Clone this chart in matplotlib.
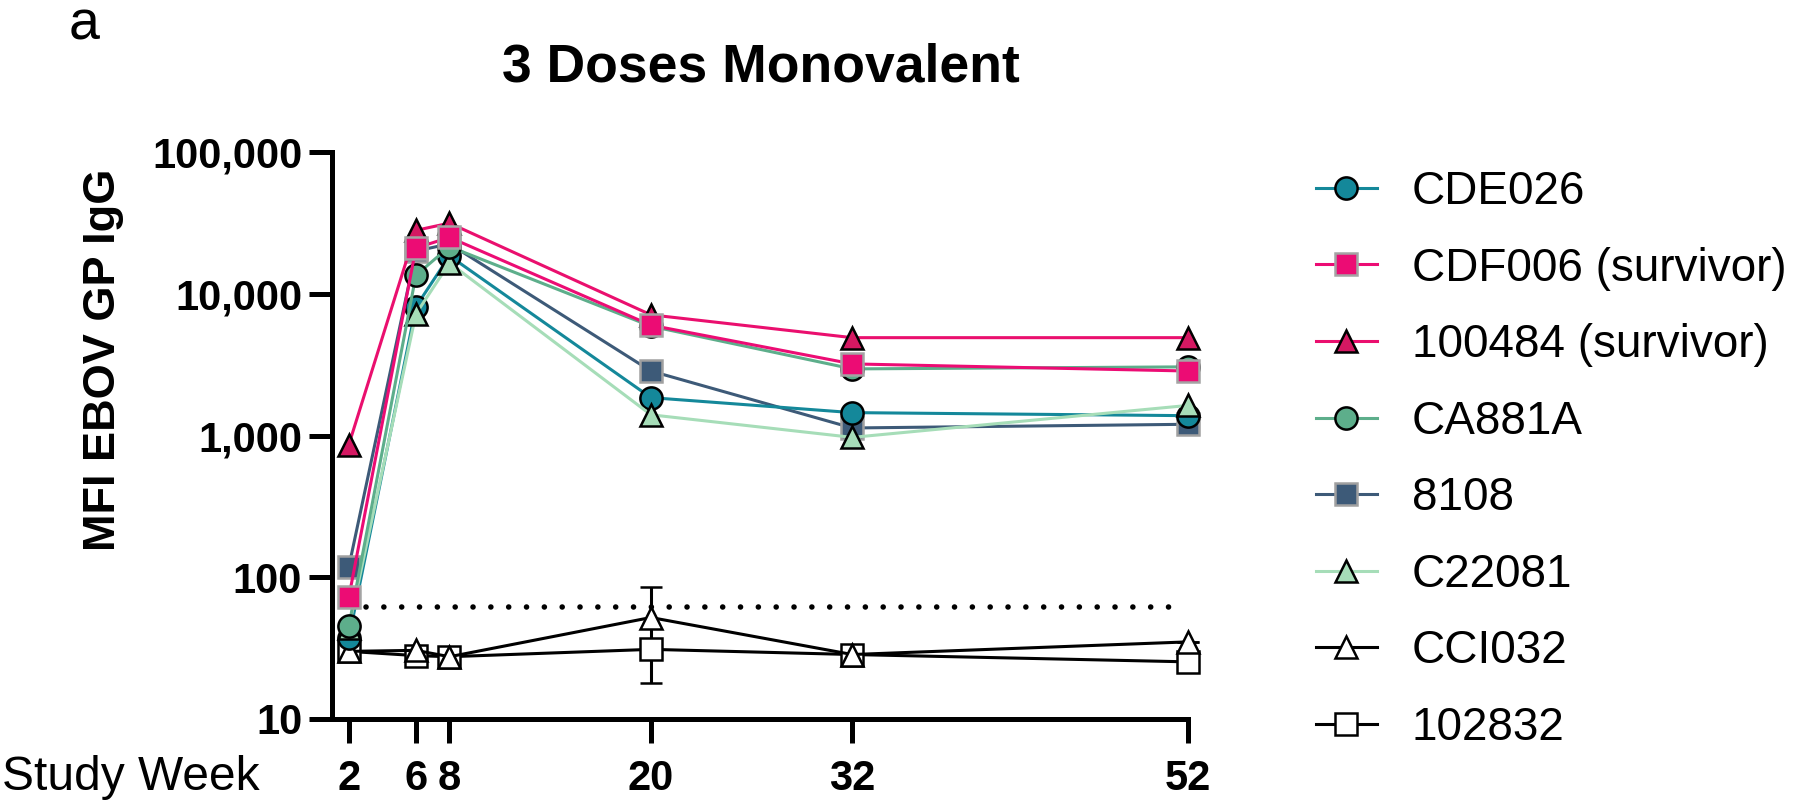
import matplotlib
matplotlib.use('Agg')
import matplotlib.pyplot as plt
from matplotlib.ticker import FixedLocator, NullLocator

plt.rcParams['font.family'] = ['Liberation Sans', 'DejaVu Sans']

weeks = [2, 6, 8, 20, 32, 52]
week_labels = ['2', '6', '8', '20', '32', '52']
y_ticks = [10, 100, 1000, 10000, 100000]
y_tick_labels = ['10', '100', '1,000', '10,000', '100,000']

cde026 = [37, 8100, 18500, 1850, 1450, 1380]
cdf006 = [72, 21000, 25000, 6000, 3200, 2850]
s100484 = [860, 28000, 31500, 7100, 4900, 4900]
ca881a = [45, 13500, 21500, 5900, 2950, 3050]
s8108 = [118, 20000, 22500, 2850, 1130, 1200]
c22081 = [44, 7200, 16500, 1400, 970, 1630]
cci032 = [30, 30.5, 27.5, 52, 28.5, 35]
cci032_err = [0, 0, 0, 34, 0, 0]
s102832 = [30, 28, 27.5, 31, 28.5, 25.3]

cutoff = 61.5
cutoff_weeks = [3, 51]

fig = plt.figure(figsize=(18, 8.09), dpi=100)
ax = fig.add_axes([332 / 1800, 90 / 809, 856 / 1800, 567 / 809])

ms = 16
mew = 1.8
lw = 2.2

# (data, label, marker, fill, edge, line colour, zorder)
series = [
    (cde026, 'CDE026', 'o', '#14889a', 'black', '#14889a', 5),
    (cdf006, 'CDF006 (survivor)', 's', '#ec0c74', '#a4a4a4', '#ec0c74', 8),
    (s100484, '100484 (survivor)', '^', '#d41862', 'black', '#ea0f6e', 7),
    (ca881a, 'CA881A', 'o', '#5dae8b', 'black', '#5dae8b', 6.5),
    (s8108, '8108', 's', '#3d5a78', '#a0a0a0', '#3d5a78', 3),
    (c22081, 'C22081', '^', '#a6ddb8', 'black', '#a6ddb8', 6),
]

handles = []
labels = []
for data, label, mk, fc, ec, lc, z in series:
    h, = ax.plot(weeks, data, marker=mk, color=lc, markerfacecolor=fc,
                 markeredgecolor=ec, markersize=ms, markeredgewidth=mew,
                 linewidth=lw, zorder=z, clip_on=False)
    handles.append(h)
    labels.append(label)

eb = ax.errorbar(weeks, cci032, yerr=cci032_err, marker='^', color='black',
                 markerfacecolor='white', markeredgecolor='black', markersize=ms,
                 markeredgewidth=mew, linewidth=lw, elinewidth=lw, capsize=8,
                 capthick=lw, zorder=2, clip_on=False)
h2, = ax.plot(weeks, s102832, marker='s', color='black', markerfacecolor='white',
              markeredgecolor='black', markersize=ms, markeredgewidth=mew,
              linewidth=lw, zorder=2, clip_on=False)
handles += [eb.lines[0], h2]
labels += ['CCI032', '102832']

# detection cut-off
ax.plot(cutoff_weeks, [cutoff, cutoff], color='black', linewidth=4,
        linestyle=(0, (0.01, 3.2)), dash_capstyle='round', zorder=1)

ax.set_yscale('log')
ax.set_ylim(10, 100000)
ax.set_xlim(1, 52)
ax.yaxis.set_major_locator(FixedLocator(y_ticks))
ax.yaxis.set_minor_locator(NullLocator())
ax.set_yticklabels(y_tick_labels, fontsize=30, fontweight='bold')
ax.set_xticks(weeks)
ax.set_xticklabels(week_labels, fontsize=30, fontweight='bold')

for side in ['top', 'right']:
    ax.spines[side].set_visible(False)
for side in ['left', 'bottom']:
    ax.spines[side].set_linewidth(3.6)
ax.tick_params(axis='y', length=16.5, width=3.6, pad=5)
ax.tick_params(axis='x', length=17, width=3.6, pad=12)

fig.text(761 / 1800, 1 - 68 / 809, '3 Doses Monovalent', fontsize=38.5,
         fontweight='bold', ha='center', va='center')
fig.text(69 / 1800, 1 - 25 / 809, 'a', fontsize=40, ha='left', va='center')
fig.text(104 / 1800, 1 - 360 / 809, 'MFI EBOV GP IgG', fontsize=32.5,
         fontweight='bold', rotation=90, ha='center', va='center')
fig.text(2 / 1800, 1 - 778 / 809, 'Study Week', fontsize=34.5, ha='left', va='center')

fig.legend(handles=handles, labels=labels,
           loc='upper left', bbox_to_anchor=(1316 / 1800, 1 - 170 / 809),
           frameon=False, fontsize=33, handlelength=1.33, handletextpad=0.76,
           labelspacing=0.71, borderpad=0, borderaxespad=0)

fig.savefig('out.png', dpi=100)
